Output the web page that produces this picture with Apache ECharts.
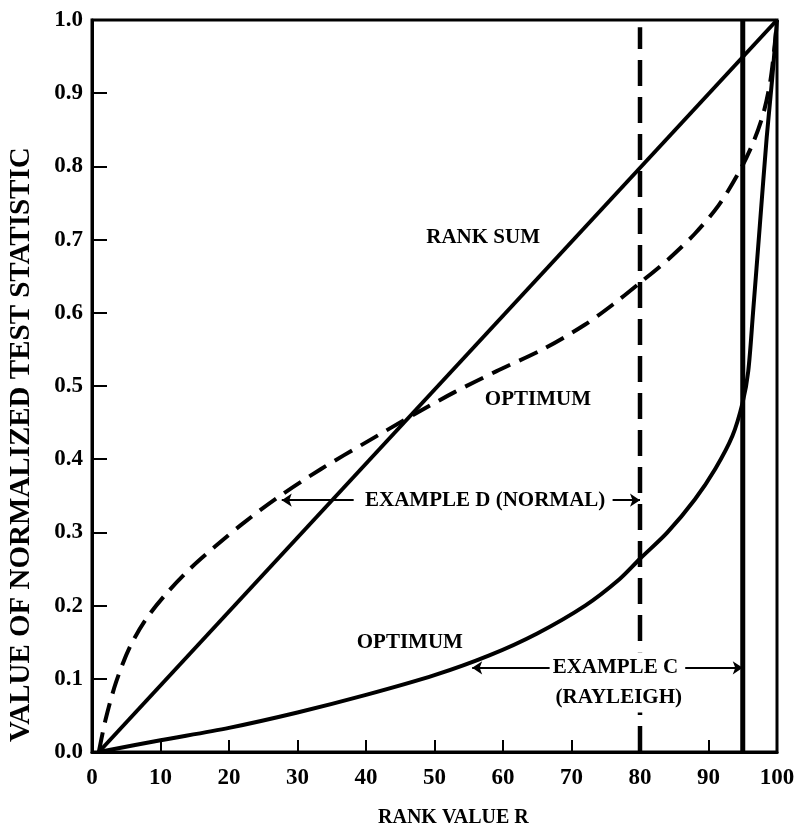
<!DOCTYPE html>
<html>
<head>
<meta charset="utf-8">
<script src="https://cdn.jsdelivr.net/npm/echarts@6/dist/echarts.min.js"></script>
<style>
	html, body { margin: 0; padding: 0; background: #fff; }
	#chart { width: 802px; height: 834px; }
</style>
</head>
<body>
<div id="chart"></div>
<script>
// rank sum statistic (straight line)
var rankSum = [ [ 1, 0 ], [ 100, 1 ] ];
// optimum statistic, example D (normal) - dashed
var optimumD = [ [ 1, 0 ], [ 2, 0.045 ], [ 3.5, 0.095 ], [ 5.5, 0.143 ],
		[ 8, 0.183 ], [ 11, 0.218 ], [ 14.5, 0.252 ], [ 18, 0.281 ],
		[ 22, 0.312 ], [ 27, 0.347 ], [ 33.5, 0.387 ], [ 40, 0.423 ],
		[ 47, 0.461 ], [ 53, 0.492 ], [ 59, 0.52 ], [ 66, 0.551 ],
		[ 72, 0.584 ], [ 76, 0.611 ], [ 80, 0.641 ], [ 84, 0.672 ],
		[ 88, 0.708 ], [ 91.5, 0.747 ], [ 94.5, 0.793 ], [ 96.5, 0.832 ],
		[ 98, 0.872 ], [ 99, 0.915 ], [ 99.6, 0.96 ], [ 100, 1 ] ];
// optimum statistic, example C (rayleigh) - solid
var optimumC = [ [ 1, 0 ], [ 10, 0.016 ], [ 20, 0.033 ], [ 30, 0.054 ],
		[ 40, 0.078 ], [ 50, 0.105 ], [ 58, 0.132 ], [ 65, 0.162 ],
		[ 72, 0.2 ], [ 77, 0.236 ], [ 80, 0.264 ], [ 84, 0.3 ],
		[ 88, 0.345 ], [ 91, 0.387 ], [ 93.5, 0.432 ], [ 95, 0.478 ],
		[ 95.8, 0.52 ], [ 96.5, 0.6 ], [ 97.5, 0.72 ], [ 98.5, 0.84 ],
		[ 99.3, 0.92 ], [ 100, 1 ] ];
// example markers (vertical lines)
var exampleDLine = [ [ 80, 0 ], [ 80, 0.99 ] ];
var exampleCLine = [ [ 95, 0 ], [ 95, 1 ] ];
// tick labels
var xTicks = [ 0, 10, 20, 30, 40, 50, 60, 70, 80, 90, 100 ];
var yTicks = [ 0, 0.1, 0.2, 0.3, 0.4, 0.5, 0.6, 0.7, 0.8, 0.9, 1.0 ];
// annotation texts and their anchor points
var noteNames = [ 'RANK SUM', 'OPTIMUM', 'EXAMPLE D (NORMAL)', 'OPTIMUM',
		'EXAMPLE C', '(RAYLEIGH)' ];
var notePoints = [ [ 57.1, 0.703 ], [ 65.1, 0.481 ], [ 57.4, 0.344 ],
		[ 46.4, 0.150 ], [ 76.4, 0.115 ], [ 76.9, 0.075 ] ];
// arrows: [from, to]
var arrows = [ [ [ 38.2, 0.344 ], [ 27.7, 0.344 ] ],
		[ [ 76.0, 0.344 ], [ 80, 0.344 ] ],
		[ [ 67.2, 0.115 ], [ 55.5, 0.115 ] ],
		[ [ 86.6, 0.115 ], [ 95, 0.115 ] ] ];

var serif = '"Liberation Serif", "DejaVu Serif", serif';

var myChart = echarts.init(document.getElementById('chart'));
var option = {
	animation : false,
	backgroundColor : '#fff',
	grid : {
		left : 92,
		right : 25,
		top : 20,
		bottom : 82,
		show : true,
		borderColor : '#000',
		borderWidth : 3
	},
	xAxis : {
		type : 'value',
		min : 0,
		max : 100,
		interval : 10,
		axisLine : {
			lineStyle : {
				color : '#000',
				width : 3
			}
		},
		axisTick : {
			inside : true,
			length : 12,
			lineStyle : {
				color : '#000',
				width : 2
			}
		},
		axisLabel : {
			margin : 15,
			color : '#000',
			fontSize : 23,
			fontWeight : 'bold',
			fontFamily : serif,
			formatter : function(v) {
				return xTicks.indexOf(v) >= 0 ? String(v) : '';
			}
		},
		splitLine : {
			show : false
		}
	},
	yAxis : {
		type : 'value',
		min : 0,
		max : 1,
		interval : 0.1,
		axisLine : {
			lineStyle : {
				color : '#000',
				width : 3
			}
		},
		axisTick : {
			inside : true,
			length : 15,
			lineStyle : {
				color : '#000',
				width : 2
			}
		},
		axisLabel : {
			margin : 9,
			color : '#000',
			fontSize : 23,
			fontWeight : 'bold',
			fontFamily : serif,
			formatter : function(v) {
				return v.toFixed(1);
			}
		},
		splitLine : {
			show : false
		}
	},
	graphic : [ {
		type : 'text',
		left : 378,
		top : 808,
		style : {
			text : 'RANK VALUE R',
			font : 'bold 20px ' + serif,
			fill : '#000'
		}
	}, {
		type : 'text',
		x : 7,
		y : 742,
		rotation : Math.PI / 2,
		style : {
			text : 'VALUE OF NORMALIZED TEST STATISTIC',
			font : 'bold 29px ' + serif,
			fill : '#000',
			textVerticalAlign : 'top'
		}
	} ],
	series : [ {
		name : 'rank sum',
		type : 'line',
		data : rankSum,
		symbol : 'none',
		lineStyle : {
			color : '#000',
			width : 4
		}
	}, {
		name : 'optimum D',
		type : 'line',
		data : optimumD,
		symbol : 'none',
		smooth : 0.3,
		lineStyle : {
			color : '#000',
			width : 4,
			type : [ 20, 10 ]
		}
	}, {
		name : 'optimum C',
		type : 'line',
		data : optimumC,
		symbol : 'none',
		smooth : 0.3,
		lineStyle : {
			color : '#000',
			width : 4
		}
	}, {
		name : 'example D',
		type : 'line',
		data : exampleDLine,
		symbol : 'none',
		lineStyle : {
			color : '#000',
			width : 4.5,
			type : [ 26, 11 ]
		}
	}, {
		name : 'example C',
		type : 'line',
		data : exampleCLine,
		symbol : 'none',
		lineStyle : {
			color : '#000',
			width : 5
		}
	}, {
		name : 'arrows',
		type : 'lines',
		coordinateSystem : 'cartesian2d',
		symbol : [ 'none', 'arrow' ],
		symbolSize : 10,
		z : 5,
		lineStyle : {
			color : '#000',
			width : 2,
			opacity : 1
		},
		data : arrows.map(function(a) {
			return {
				coords : a
			};
		})
	}, {
		name : 'notes',
		type : 'scatter',
		symbolSize : 0,
		z : 10,
		itemStyle : {
			opacity : 1
		},
		label : {
			show : true,
			position : 'inside',
			formatter : '{b}',
			color : '#000',
			opacity : 1,
			fontSize : 21,
			fontWeight : 'bold',
			fontFamily : serif,
			backgroundColor : '#fff',
			padding : [ 5, 3 ]
		},
		data : noteNames.map(function(n, i) {
			return {
				name : n,
				value : notePoints[i]
			};
		})
	} ]
};
myChart.setOption(option);
</script>
</body>
</html>
